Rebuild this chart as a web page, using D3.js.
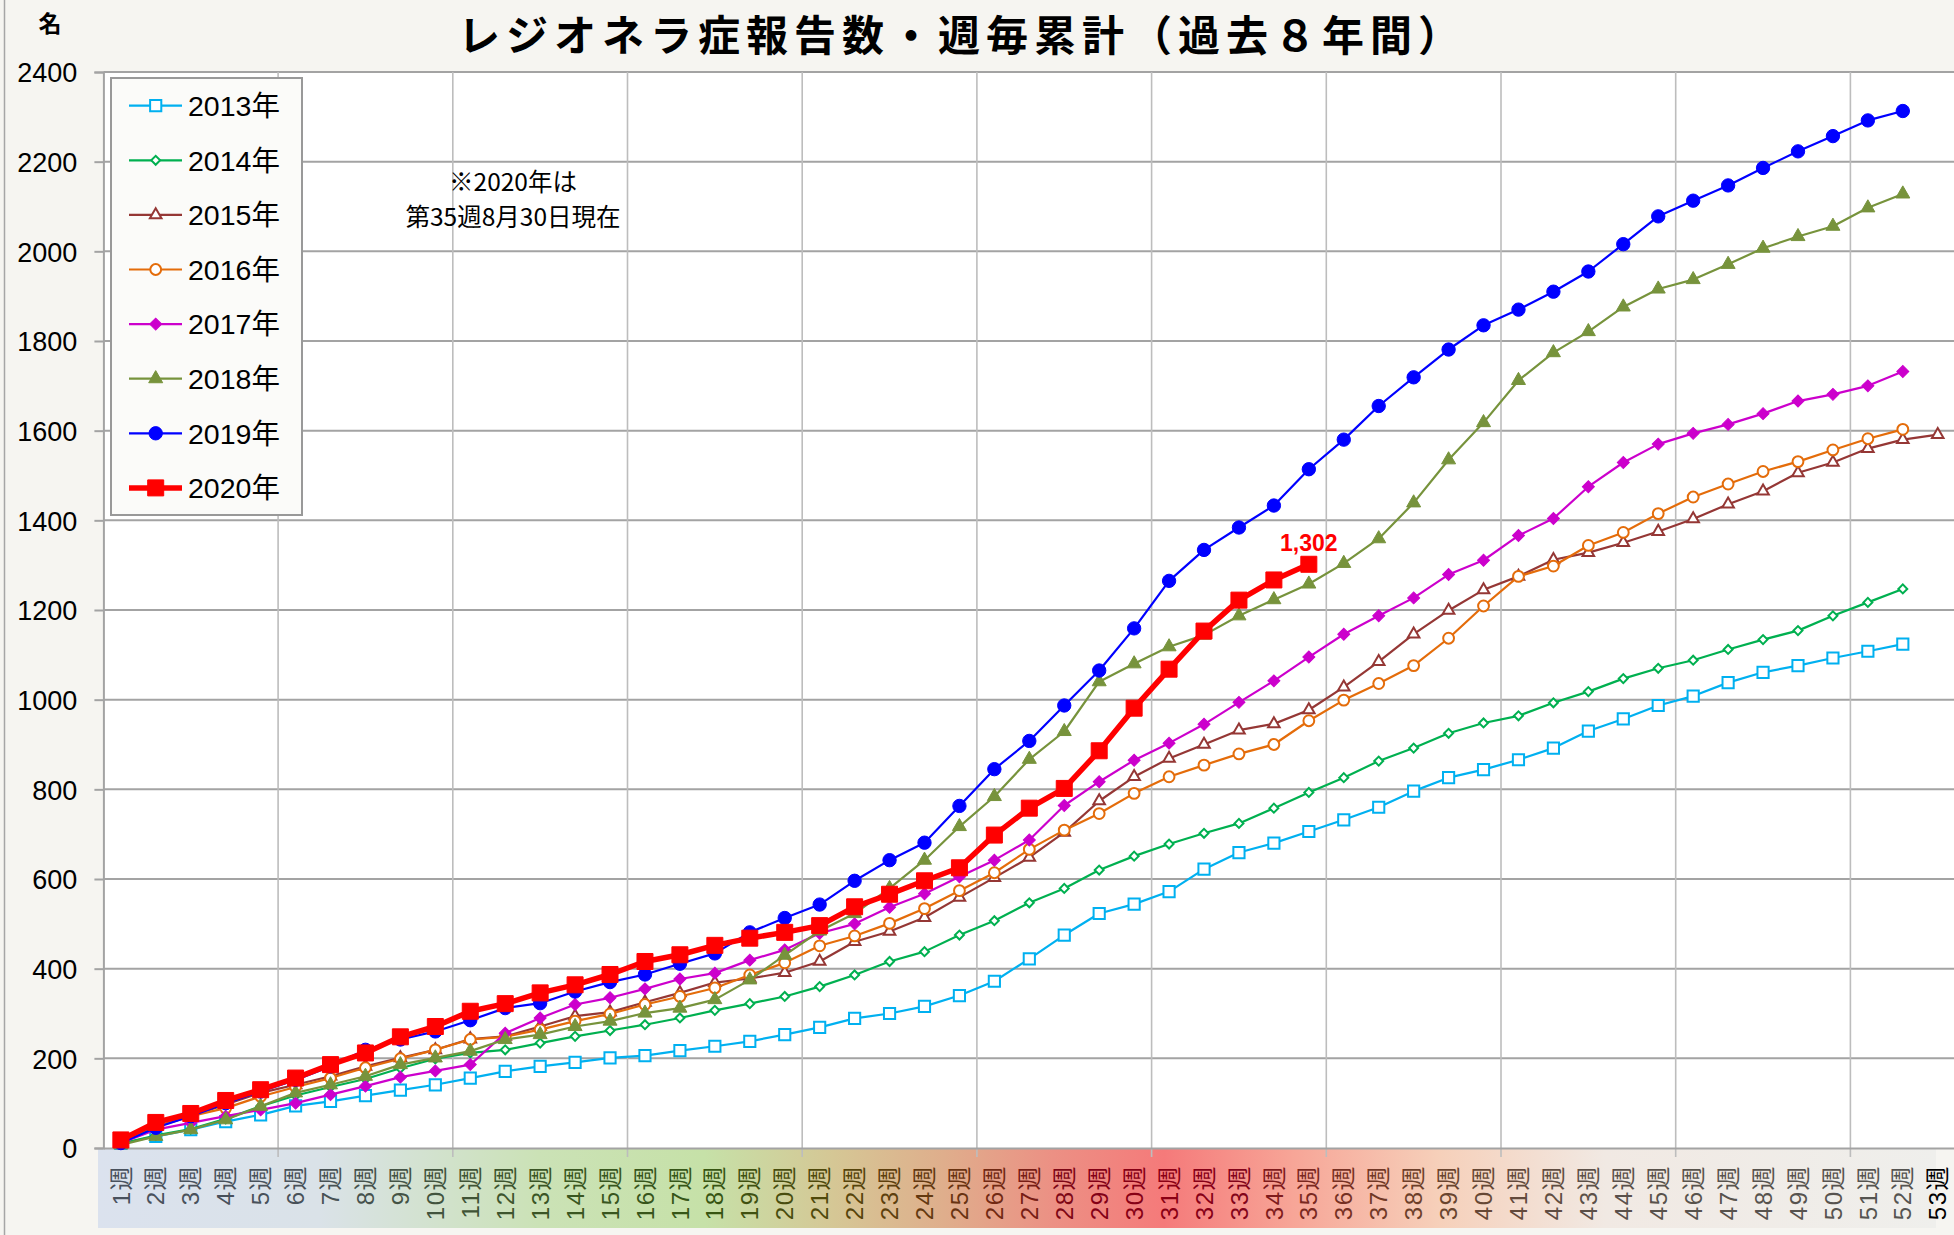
<!DOCTYPE html>
<html><head><meta charset="utf-8">
<script src="https://cdn.jsdelivr.net/npm/d3@7"></script>
<style>html,body{margin:0;padding:0;background:#f6f5f1;overflow:hidden;} svg{display:block;}</style>
</head><body>
<svg id="chart" width="1954" height="1235"></svg>
<script>
// ---------------- DATA ----------------
const weekLabels = ["1週","2週","3週","4週","5週","6週","7週","8週","9週","10週",
  "11週","12週","13週","14週","15週","16週","17週","18週","19週","20週",
  "21週","22週","23週","24週","25週","26週","27週","28週","29週","30週",
  "31週","32週","33週","34週","35週","36週","37週","38週","39週","40週",
  "41週","42週","43週","44週","45週","46週","47週","48週","49週","50週",
  "51週","52週","53週"];
const yTicks = [0,200,400,600,800,1000,1200,1400,1600,1800,2000,2200,2400];
const seriesNames = ["2013年","2014年","2015年","2016年","2017年","2018年","2019年","2020年"];

const v2013 = [10,26,41,59,74,94,104,117,129,141,156,171,182,191,201,206,217,227,238,253,
  269,289,300,316,340,372,422,475,523,544,572,622,659,680,706,732,760,796,826,844,
  866,892,930,957,987,1008,1038,1061,1076,1093,1108,1124];
const v2014 = [10,28,42,65,93,117,136,154,178,199,212,219,234,249,262,275,290,307,322,338,
  360,386,416,438,475,507,547,579,620,651,678,702,724,758,793,826,863,892,925,948,
  964,993,1018,1047,1070,1088,1112,1134,1154,1187,1217,1247];
const v2015 = [10,48,71,97,123,141,160,182,201,219,243,249,271,294,303,325,346,369,378,391,
  416,460,483,514,559,603,648,704,774,828,869,900,932,946,977,1028,1085,1146,1199,1245,
  1275,1312,1328,1350,1375,1403,1436,1465,1506,1529,1560,1580,1591];
const v2016 = [10,47,71,89,115,136,156,179,199,219,242,248,264,283,299,320,338,357,386,413,
  451,473,501,534,574,614,666,709,746,791,828,854,879,900,953,999,1036,1076,1137,1209,
  1275,1298,1344,1373,1415,1452,1481,1509,1531,1557,1582,1603];
const v2017 = [11,41,56,71,85,100,119,138,158,172,186,256,290,320,335,355,377,390,419,442,
  479,500,537,567,605,642,687,764,817,865,903,945,994,1042,1095,1146,1187,1227,1279,1311,
  1366,1404,1475,1529,1570,1594,1614,1638,1666,1681,1700,1732];
const v2018 = [7,26,41,63,93,123,141,160,186,201,216,242,253,271,283,301,312,331,375,430,
  484,523,579,642,717,784,867,929,1040,1080,1118,1144,1187,1223,1258,1304,1359,1439,1535,1618,
  1712,1774,1821,1876,1916,1937,1971,2007,2033,2056,2097,2128];
const v2019 = [11,45,71,100,126,152,182,219,242,260,285,312,323,349,370,387,411,434,481,513,
  543,596,642,681,763,845,908,987,1065,1159,1265,1334,1384,1433,1514,1580,1655,1719,1781,1835,
  1870,1910,1955,2016,2078,2113,2147,2186,2223,2257,2292,2313];
const v2020 = [18,57,77,106,130,156,186,212,248,271,305,322,346,364,387,416,431,452,468,481,
  496,538,566,596,625,698,758,802,886,981,1068,1153,1222,1267,1302];

const titleText = "レジオネラ症報告数・週毎累計（過去８年間）";
const unitText = "名";
const noteLines = ["※2020年は","第35週8月30日現在"];

// ---------------- LAYOUT / STYLE ----------------
const W = 1954, H = 1235;
const plotL = 103.4, plotT = 72, plotB = 1148, catW = 34.94;
const svg = d3.select("#chart");

const seriesValues = [v2013,v2014,v2015,v2016,v2017,v2018,v2019,v2020];
const styles = [
  {color:"#00b0f0", sym:d3.symbolSquare,   size:125, open:true,  rot:0,  lw:2.2},
  {color:"#00b050", sym:d3.symbolSquare,   size:40,  open:true,  rot:45, lw:2.2},
  {color:"#953735", sym:d3.symbolTriangle, size:58,  open:true,  rot:0,  lw:2.2},
  {color:"#e46c0a", sym:d3.symbolCircle,   size:92,  open:true,  rot:0,  lw:2.2},
  {color:"#cc00cc", sym:d3.symbolSquare,   size:72,  open:false, rot:45, lw:2.2},
  {color:"#77933c", sym:d3.symbolTriangle, size:85,  open:false, rot:0,  lw:2.2},
  {color:"#0000ff", sym:d3.symbolCircle,   size:140, open:false, rot:0,  lw:2.2},
  {color:"#ff0000", sym:d3.symbolSquare,   size:256, open:false, rot:0,  lw:5.5}
];
const series = seriesNames.map((n,i)=>({name:n, values:seriesValues[i], st:styles[i]}));

const x = d3.scaleBand().domain(weekLabels).range([plotL, plotL + catW*weekLabels.length]).padding(0);
const y = d3.scaleLinear().domain([0,2400]).range([plotB, plotT]);
const cx = w => x(w) + x.bandwidth()/2;

// background
svg.append("rect").attr("width",W).attr("height",H).attr("fill","#f6f5f1");
svg.append("line").attr("x1",4.5).attr("x2",4.5).attr("y1",0).attr("y2",H)
  .attr("stroke","#a6a6a6").attr("stroke-width",1.5);
svg.append("rect").attr("x",plotL).attr("y",plotT).attr("width",W-plotL).attr("height",plotB-plotT).attr("fill","#ffffff");

// x band gradient
const bandStops = [
  [0.00,"#dbe2ee"],[0.12,"#dae2e8"],[0.24,"#cbe2b6"],[0.33,"#c6e1a8"],
  [0.40,"#d5c795"],[0.46,"#dfae8c"],[0.52,"#ec9084"],[0.58,"#f57a7a"],
  [0.65,"#f7a597"],[0.73,"#f6d0ba"],[0.82,"#f1e9e3"],[1.00,"#efefec"]];
const bandX0 = 98, bandX1 = 1936;
const defs = svg.append("defs");
const grad = defs.append("linearGradient").attr("id","bandGrad").attr("x1","0%").attr("x2","100%");
bandStops.forEach(s=>grad.append("stop").attr("offset",(s[0]*100)+"%").attr("stop-color",s[1]));
svg.append("rect").attr("x",bandX0).attr("y",plotB+1).attr("width",bandX1-bandX0).attr("height",79)
  .attr("fill","url(#bandGrad)");
const bandScale = d3.scaleLinear().domain(bandStops.map(s=>bandX0+s[0]*(bandX1-bandX0)))
  .range(bandStops.map(s=>s[1])).interpolate(d3.interpolateRgb).clamp(true);

// gridlines
const gridG = svg.append("g");
gridG.selectAll("line.h").data(yTicks.filter(t=>t>0)).join("line")
  .attr("x1",plotL).attr("x2",W).attr("y1",d=>y(d)).attr("y2",d=>y(d))
  .attr("stroke","#a3a3a3").attr("stroke-width",2);
const vGrid = weekLabels.filter((w,i)=>i%5===0 && i>0);
gridG.selectAll("line.v").data(vGrid).join("line")
  .attr("x1",d=>x(d)).attr("x2",d=>x(d)).attr("y1",plotT).attr("y2",plotB+9)
  .attr("stroke","#bdbdbd").attr("stroke-width",1.6);

// y axis
const yAxis = d3.axisLeft(y).tickValues(yTicks).tickSize(9).tickPadding(17).tickFormat(d3.format("d"));
const yg = svg.append("g").attr("transform",`translate(${plotL},0)`).call(yAxis);
yg.select(".domain").attr("stroke","#a3a3a3").attr("stroke-width",2);
yg.selectAll(".tick line").attr("stroke","#a3a3a3").attr("stroke-width",2);
yg.selectAll(".tick text").attr("font-family","'Liberation Sans', Arial, sans-serif")
  .attr("font-size",27).attr("fill","#000").attr("dy","0.36em");

// x axis
const xAxis = d3.axisBottom(x).tickSize(0).tickPadding(0);
const xg = svg.append("g").attr("transform",`translate(0,${plotB})`).call(xAxis);
xg.select(".domain").attr("stroke","#a3a3a3").attr("stroke-width",2.2);
xg.selectAll(".tick text")
  .attr("transform","rotate(-90)")
  .attr("x",-17).attr("y",0).attr("dy","0.36em")
  .attr("text-anchor","end")
  .attr("font-family","'Liberation Sans', 'Noto Sans CJK JP', sans-serif")
  .attr("font-size",24).attr("letter-spacing","1.5px")
  .attr("fill",d=>{
    const px = cx(d);
    if (px > bandX1 - 5) return "#000";
    const c = d3.lch(bandScale(px)); c.l = c.l*0.38; c.c = c.c*1.3; return c.formatHex();
  });

// series lines & markers
const line = d3.line().x((d,i)=>cx(weekLabels[i])).y(d=>y(d));
const sg = svg.append("g");
series.forEach(s=>{
  const g = sg.append("g");
  g.append("path").datum(s.values).attr("d",line).attr("fill","none")
    .attr("stroke",s.st.color).attr("stroke-width",s.st.lw).attr("stroke-linejoin","round");
  const sym = d3.symbol().type(s.st.sym).size(s.st.size);
  g.selectAll("path.m").data(s.values).join("path").attr("class","m")
    .attr("d",sym)
    .attr("transform",(d,i)=>`translate(${cx(weekLabels[i])},${y(d)}) rotate(${s.st.rot})`)
    .attr("fill",s.st.open?"#ffffff":s.st.color)
    .attr("stroke",s.st.color).attr("stroke-width",s.st.open?2:1);
});

// data label for last 2020 point
const last2020 = v2020[v2020.length-1];
svg.append("text").attr("x",cx(weekLabels[v2020.length-1])).attr("y",y(last2020)-13)
  .attr("text-anchor","middle").attr("font-family","'Liberation Sans', Arial, sans-serif")
  .attr("font-weight","bold").attr("font-size",23).attr("fill","#ff0000")
  .text(d3.format(",")(last2020));

// legend
const lg = svg.append("g");
lg.append("rect").attr("x",111).attr("y",78).attr("width",191).attr("height",437)
  .attr("fill","#fbfbf9").attr("stroke","#999999").attr("stroke-width",2);
series.forEach((s,i)=>{
  const yy = 105.7 + i*54.6;
  lg.append("line").attr("x1",129).attr("x2",182).attr("y1",yy).attr("y2",yy)
    .attr("stroke",s.st.color).attr("stroke-width",s.st.lw);
  lg.append("path").attr("d",d3.symbol().type(s.st.sym).size(s.st.size))
    .attr("transform",`translate(155.7,${yy}) rotate(${s.st.rot})`)
    .attr("fill",s.st.open?"#ffffff":s.st.color)
    .attr("stroke",s.st.color).attr("stroke-width",s.st.open?2:1);
  lg.append("text").attr("x",188).attr("y",yy).attr("dy","0.36em")
    .attr("font-family","'Liberation Sans', 'Noto Sans CJK JP', sans-serif")
    .attr("font-size",28.5).attr("fill","#000").text(s.name);
});

// note
noteLines.forEach((t,i)=>{
  svg.append("text").attr("x",513).attr("y",191 + i*35).attr("text-anchor","middle")
    .attr("font-family","'Noto Sans CJK JP', sans-serif").attr("font-size",24.5)
    .attr("fill","#000").text(t);
});

// title & unit
svg.append("text").attr("x",458).attr("y",51)
  .attr("font-family","'Noto Sans CJK JP', sans-serif").attr("font-weight","bold")
  .attr("font-size",42).attr("letter-spacing","6px").attr("fill","#000").text(titleText);
svg.append("text").attr("x",50).attr("y",31.5).attr("text-anchor","middle")
  .attr("font-family","'Noto Sans CJK JP', sans-serif").attr("font-weight","bold")
  .attr("font-size",23).attr("fill","#000").text(unitText);
</script>
</body></html>
